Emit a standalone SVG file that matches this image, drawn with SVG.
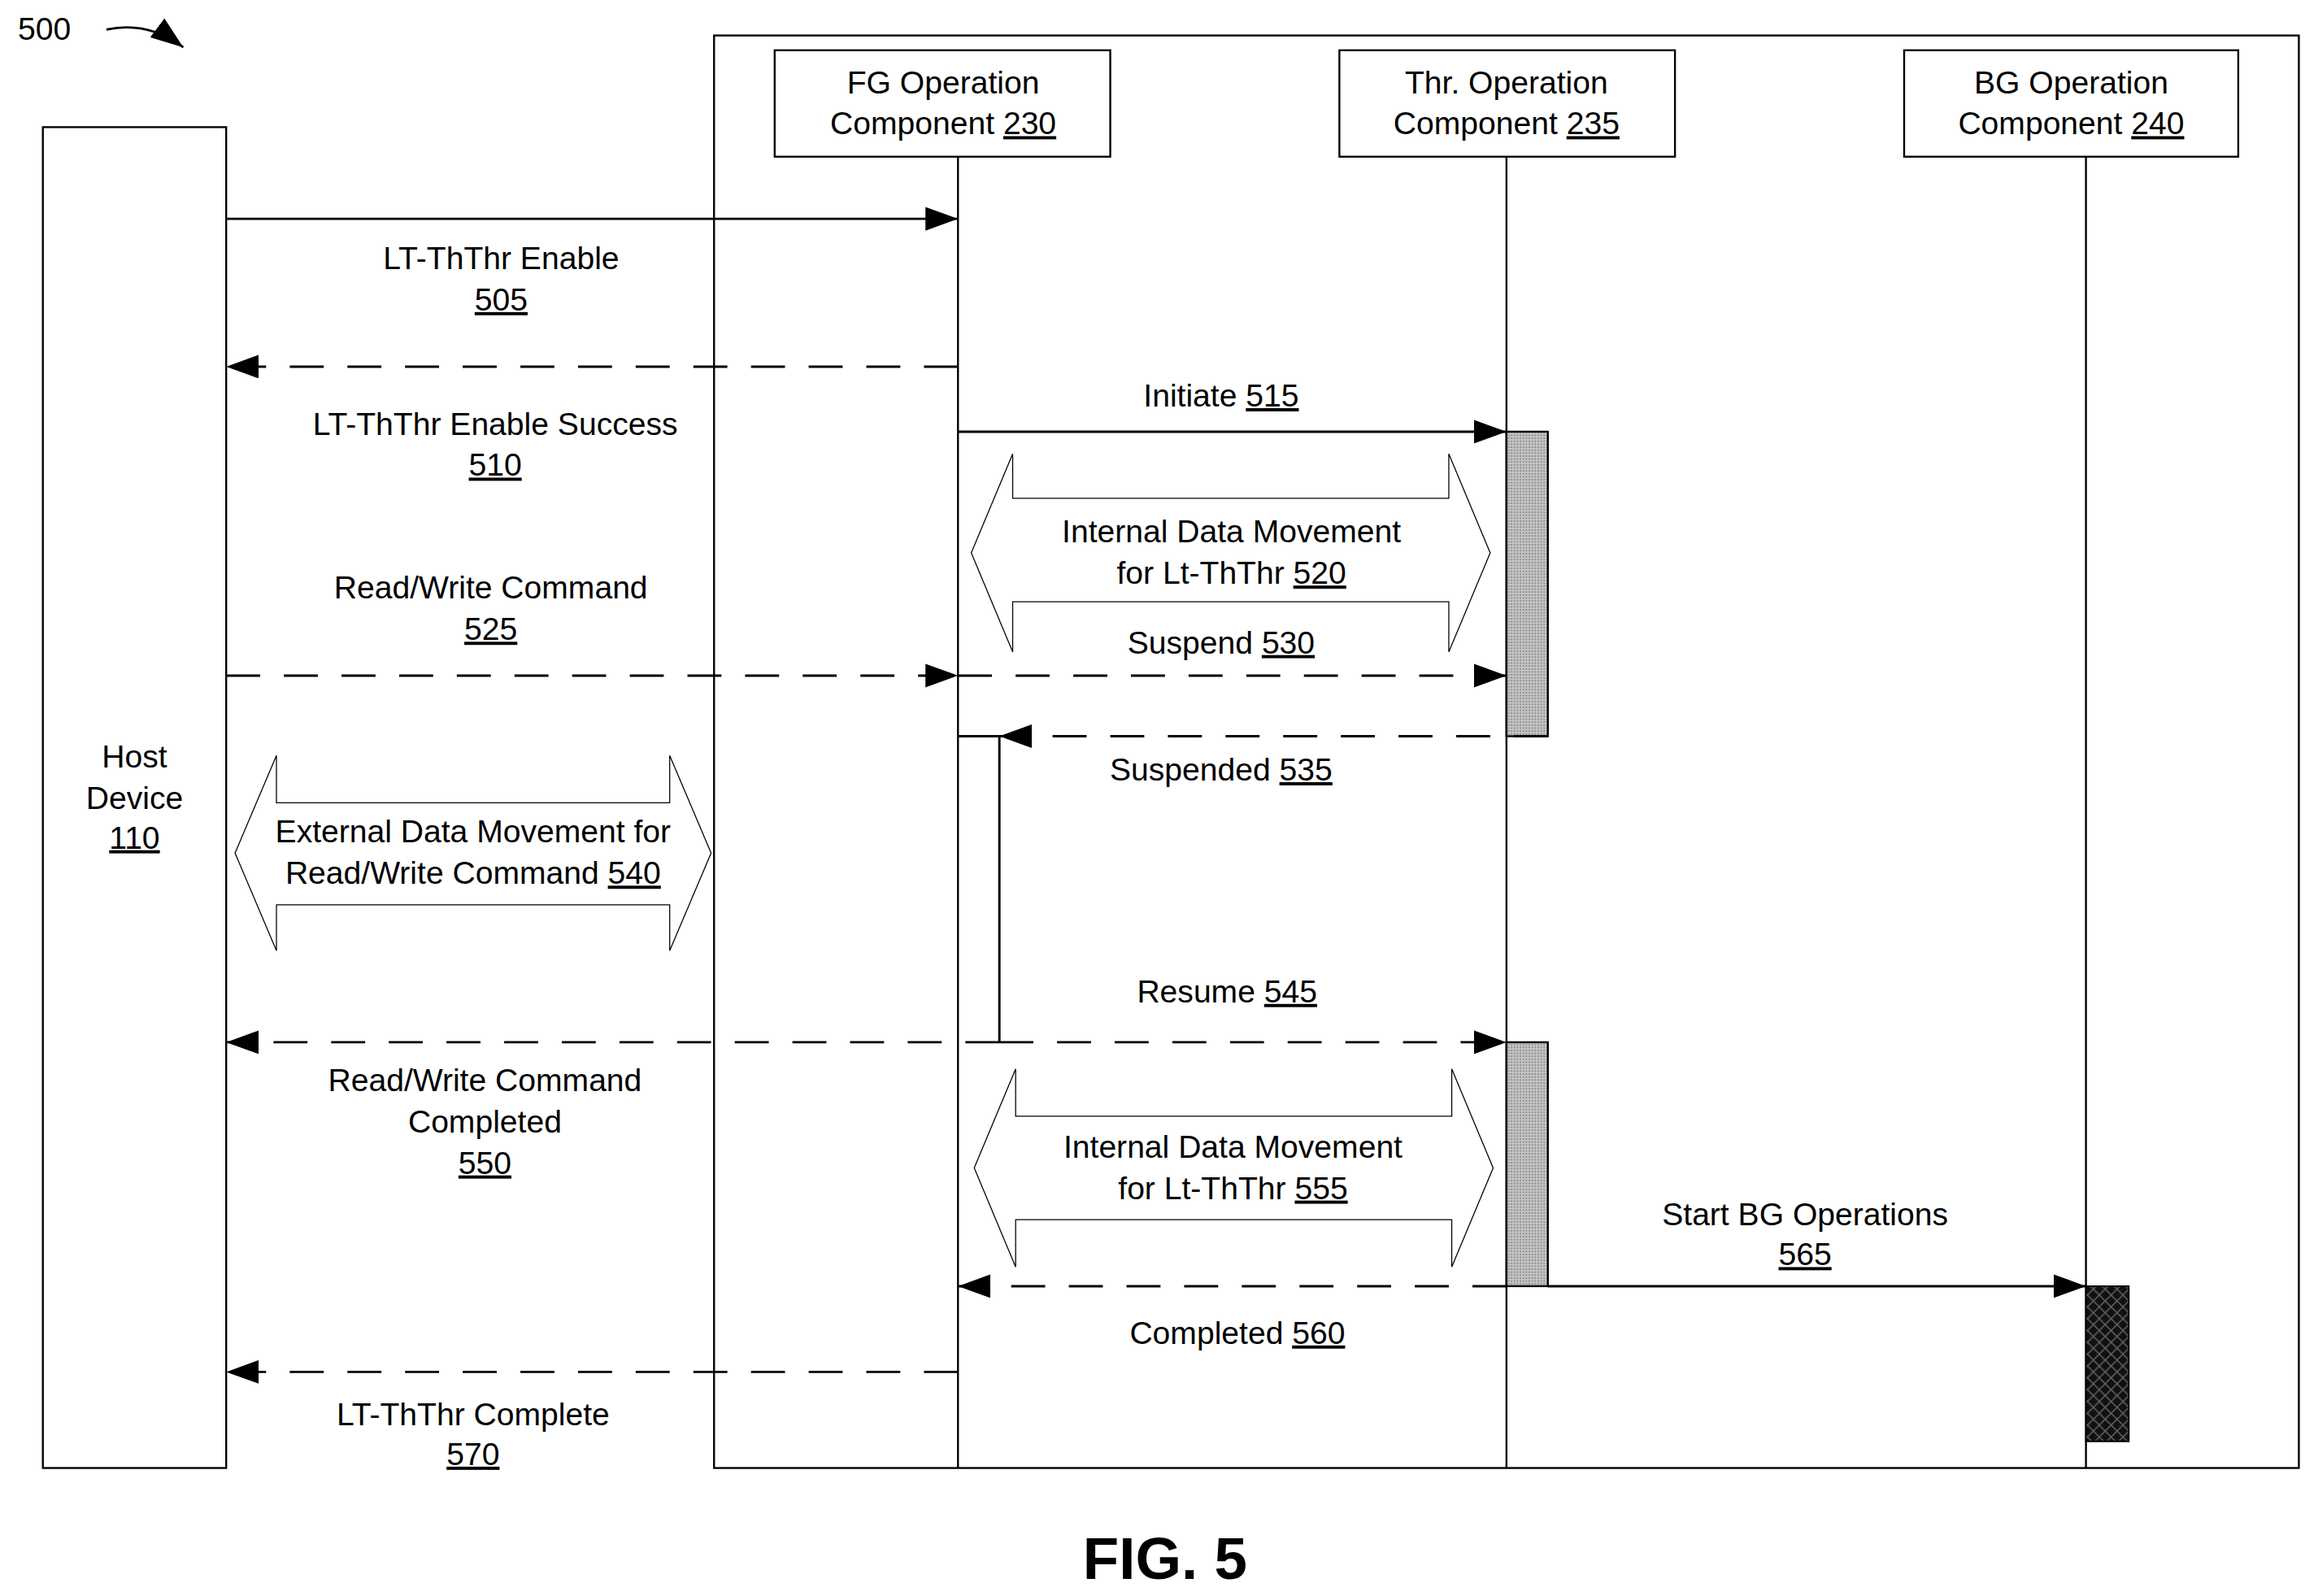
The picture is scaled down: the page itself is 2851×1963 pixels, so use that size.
<svg xmlns="http://www.w3.org/2000/svg" width="2851" height="1963" viewBox="0 0 2851 1963">
<style>
text{font-family:"Liberation Sans",Arial,sans-serif;font-size:21.5px;fill:#000;text-anchor:middle}
.u{text-decoration:underline}
.box{fill:#fff;stroke:#000;stroke-width:1.3}
.life{stroke:#000;stroke-width:1.3;fill:none}
.msg{stroke:#000;stroke-width:1.6;fill:none}
.dash{stroke-dasharray:23 16}
.dbl{fill:#fff;stroke:#000;stroke-width:0.7}
</style>
<defs>
<marker id="ah" markerUnits="userSpaceOnUse" markerWidth="22" markerHeight="16" refX="22" refY="8" orient="auto"><path d="M0,0 L22,8 L0,16 Z" fill="#000"/></marker>
<pattern id="gray" width="2" height="2" patternUnits="userSpaceOnUse"><rect width="2" height="2" fill="#c4c4c4"/><rect width="1" height="1" fill="#8a8a8a"/></pattern>
<pattern id="hatch" width="8" height="8" patternUnits="userSpaceOnUse"><rect width="8" height="8" fill="#111"/><path d="M0,0 L8,8 M8,0 L0,8" stroke="#666" stroke-width="0.8"/></pattern>
</defs>
<rect width="2851" height="1963" fill="#fff"/>
<g transform="scale(1.8183)">
<g id="ref500">
<text x="30" y="27" style="text-anchor:middle">500</text>
<path d="M72,20 Q100,14 124,32" class="msg" marker-end="url(#ah)"/>
</g>
<rect id="frame" x="483" y="24" width="1072" height="969" fill="none" stroke="#000" stroke-width="1.3"/>
<g id="host"><rect class="box" x="29" y="86" width="124" height="907"/>
<text x="91" y="519">Host</text><text x="91" y="547">Device</text><text x="91" y="574"><tspan class="u">110</tspan></text></g>
<g id="fg"><rect class="box" x="524" y="34" width="227" height="72"/>
<text x="638" y="63">FG Operation</text><text x="638" y="91">Component <tspan class="u">230</tspan></text>
<line class="life" x1="648" y1="106" x2="648" y2="993"/></g>
<g id="thr"><rect class="box" x="906" y="34" width="227" height="72"/>
<text x="1019" y="63">Thr. Operation</text><text x="1019" y="91">Component <tspan class="u">235</tspan></text>
<line class="life" x1="1019" y1="106" x2="1019" y2="993"/></g>
<g id="bg"><rect class="box" x="1288" y="34" width="226" height="72"/>
<text x="1401" y="63">BG Operation</text><text x="1401" y="91">Component <tspan class="u">240</tspan></text>
<line class="life" x1="1411" y1="106" x2="1411" y2="993"/></g>
<g id="bars">
<rect x="1019" y="292" width="28" height="206" fill="url(#gray)" stroke="#000" stroke-width="1.3"/>
<rect x="1019" y="705" width="28" height="165" fill="url(#gray)" stroke="#000" stroke-width="1.3"/>
<rect x="1411" y="870" width="29" height="105" fill="url(#hatch)" stroke="#000" stroke-width="1"/>
</g>
<g id="dbl">
<path class="dbl" d="M657,374 L685,307 L685,337 L980,337 L980,307 L1008,374 L980,441 L980,407 L685,407 L685,441 Z"/>
<path class="dbl" d="M159,577 L187,511 L187,543 L453,543 L453,511 L481,577 L453,643 L453,612 L187,612 L187,643 Z"/>
<path class="dbl" d="M659,790 L687,723 L687,755 L982,755 L982,723 L1010,790 L982,857 L982,825 L687,825 L687,857 Z"/>
</g>
<g id="connectors">
<line class="msg" x1="153" y1="148" x2="648" y2="148" marker-end="url(#ah)"/>
<line class="msg dash" x1="648" y1="248" x2="153" y2="248" marker-end="url(#ah)"/>
<line class="msg" x1="648" y1="292" x2="1019" y2="292" marker-end="url(#ah)"/>
<line class="msg dash" x1="153" y1="457" x2="648" y2="457" marker-end="url(#ah)"/>
<line class="msg dash" x1="648" y1="457" x2="1019" y2="457" marker-end="url(#ah)"/>
<line class="msg dash" x1="1047" y1="498" x2="676" y2="498" marker-end="url(#ah)"/>
<path class="msg" d="M648,498 L676,498 L676,705"/>
<line class="msg dash" x1="676" y1="705" x2="1019" y2="705" marker-end="url(#ah)"/>
<line class="msg dash" x1="676" y1="705" x2="153" y2="705" marker-end="url(#ah)"/>
<line class="msg dash" x1="1019" y1="870" x2="648" y2="870" marker-end="url(#ah)"/>
<line class="msg" x1="1047" y1="870" x2="1411" y2="870" marker-end="url(#ah)"/>
<line class="msg dash" x1="648" y1="928" x2="153" y2="928" marker-end="url(#ah)"/>
</g>
<g id="labels">
<text x="339" y="182">LT-ThThr Enable</text><text x="339" y="210"><tspan class="u">505</tspan></text>
<text x="335" y="294">LT-ThThr Enable Success</text><text x="335" y="322"><tspan class="u">510</tspan></text>
<text x="826" y="275">Initiate <tspan class="u">515</tspan></text>
<text x="833" y="367">Internal Data Movement</text><text x="833" y="395">for Lt-ThThr <tspan class="u">520</tspan></text>
<text x="332" y="405">Read/Write Command</text><text x="332" y="433"><tspan class="u">525</tspan></text>
<text x="826" y="442">Suspend <tspan class="u">530</tspan></text>
<text x="826" y="528">Suspended <tspan class="u">535</tspan></text>
<text x="320" y="570">External Data Movement for</text><text x="320" y="598">Read/Write Command <tspan class="u">540</tspan></text>
<text x="830" y="678">Resume <tspan class="u">545</tspan></text>
<text x="328" y="738">Read/Write Command</text><text x="328" y="766">Completed</text><text x="328" y="794"><tspan class="u">550</tspan></text>
<text x="834" y="783">Internal Data Movement</text><text x="834" y="811">for Lt-ThThr <tspan class="u">555</tspan></text>
<text x="1221" y="829">Start BG Operations</text><text x="1221" y="856"><tspan class="u">565</tspan></text>
<text x="837" y="909">Completed <tspan class="u">560</tspan></text>
<text x="320" y="964">LT-ThThr Complete</text><text x="320" y="991"><tspan class="u">570</tspan></text>
<text x="788" y="1068" style="font-size:40px;font-weight:bold">FIG. 5</text>
</g>
</g>
</svg>
